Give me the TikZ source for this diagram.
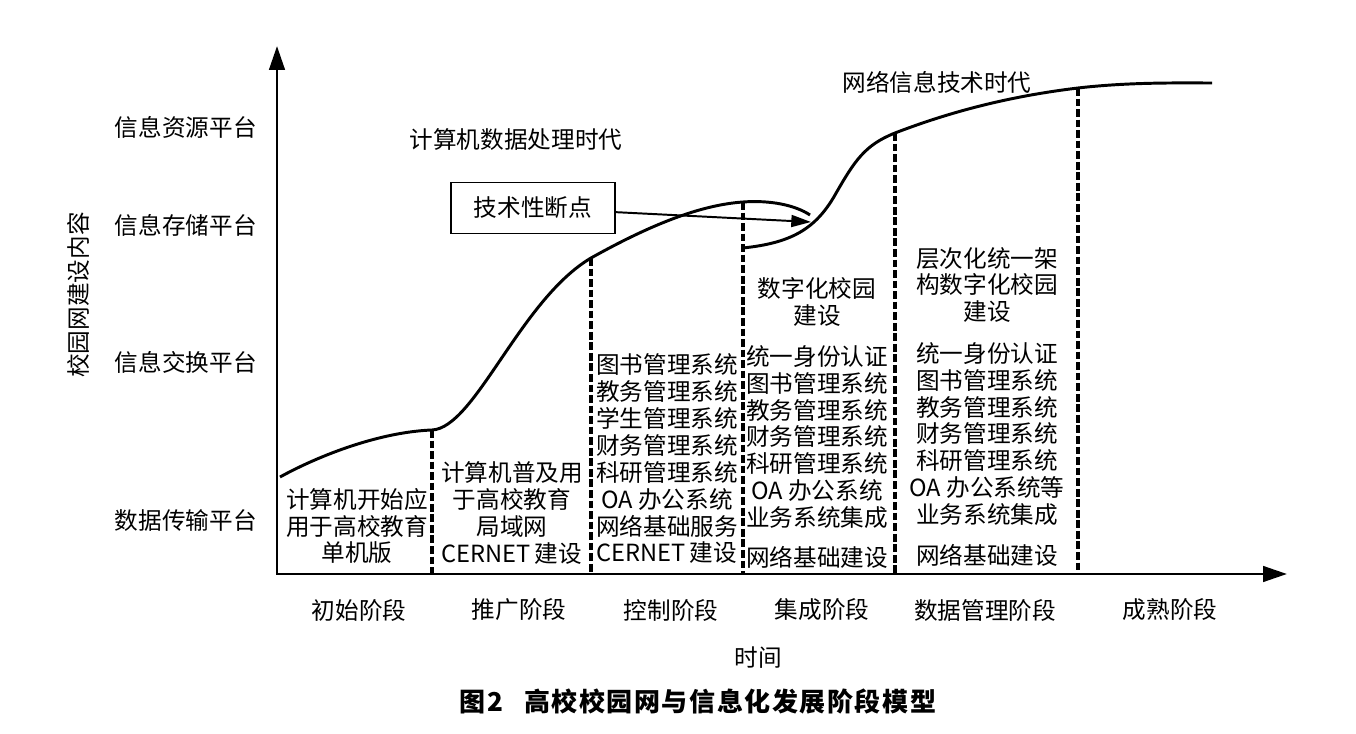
\documentclass[tikz,border=0pt]{standalone}
\usepackage{fontspec}
\setmainfont{Noto Sans CJK SC}
\usetikzlibrary{arrows.meta}

\begin{document}
\begin{tikzpicture}[
  x=0.025cm, y=-0.025cm,
  txt/.style={font=\fontsize{16.8}{19.1}\selectfont, align=center, inner sep=0pt},
  lvl/.style={txt, anchor=east},
  axis/.style={line width=2.1pt, {Triangle[length=17pt, width=11pt]}-{Triangle[length=17pt, width=11pt]}},
  curve/.style={line width=2.1pt},
  sep/.style={line width=3pt, dash pattern=on 5.5pt off 2pt},
  keybox/.style={txt, draw, line width=1.4pt, minimum width=4.075cm, minimum height=1.275cm}
]
  \useasboundingbox (0,0) rectangle (1356,734);

  % --- Ejes ---
  \coordinate (o) at (277,574);
  \coordinate (ytop) at (277,46);
  \coordinate (xend) at (1287,574);
  \draw[axis] (ytop) -- (o) -- (xend);

  \node[lvl] (l1) at (257,127) {信息资源平台};
  \node[lvl] (l2) at (257,225) {信息存储平台};
  \node[lvl] (l3) at (257,362) {信息交换平台};
  \node[lvl] (l4) at (257,521) {数据传输平台};
  \node[txt, rotate=90] (ytitle) at (78,295) {校园网建设内容};

  % --- Curvas ---
  \coordinate (p1) at (432,430);
  \coordinate (p2) at (591,258);
  \coordinate (p3) at (743,202);
  \coordinate (q3) at (743,248);
  \coordinate (p4) at (895,133);
  \coordinate (p5) at (1078,88);

  \draw[curve] (280,477) .. controls (320,455) and (380,432) .. (p1)
    .. controls (475,428) and (520,300) .. (p2)
    .. controls (650,225) and (700,205) .. (p3)
    .. controls (770,200) and (795,205) .. (810,215);
  \draw[curve] (q3) .. controls (790,243) and (815,230) .. (835,195)
    .. controls (855,160) and (865,145) .. (p4)
    .. controls (960,108) and (1020,95) .. (p5)
    .. controls (1130,82) and (1180,83) .. (1212,83);

  % --- Separadores ---
  \foreach \i/\x in {1/432, 2/591, 3/743, 4/895, 5/1078}
    \coordinate (b\i) at (\x,574);
  \foreach \i in {1,...,5}
    \draw[sep] (p\i) -- (b\i);

  % --- Eras y punto de ruptura ---
  \node[txt] (era1) at (516,140) {计算机数据处理时代};
  \node[txt] (era2) at (937,82) {网络信息技术时代};

  \node[keybox] (brk) at (533,208) {技术性断点};
  \coordinate (hit) at (811,222);
  \draw[line width=1.4pt, -{Triangle[length=14pt, width=8.5pt]}] (brk) -- (hit);

  % --- Contenido por etapa ---
  \node[txt] (c1) at (357,526) {计算机开始应\\用于高校教育\\单机版};
  \node[txt] (c2) at (512,513) {计算机普及用\\于高校教育\\局域网\\CERNET\,建设};
  \node[txt] (c3) at (667,459) {图书管理系统\\教务管理系统\\学生管理系统\\财务管理系统\\科研管理系统\\OA 办公系统\\网络基础服务\\CERNET\,建设};
  \node[txt] (c4a) at (817,302) {数字化校园\\建设};
  \node[txt] (c4b) at (817,437) {统一身份认证\\图书管理系统\\教务管理系统\\财务管理系统\\科研管理系统\\OA 办公系统\\业务系统集成};
  \node[txt] (c4c) at (817,557) {网络基础建设};
  \node[txt] (c5a) at (987,285) {层次化统一架\\构数字化校园\\建设};
  \node[txt] (c5b) at (987,434) {统一身份认证\\图书管理系统\\教务管理系统\\财务管理系统\\科研管理系统\\OA 办公系统等\\业务系统集成};
  \node[txt] (c5c) at (987,555) {网络基础建设};

  % --- Etapas ---
  \node[txt] (s1) at (359,610) {初始阶段};
  \node[txt] (s2) at (519,610) {推广阶段};
  \node[txt] (s3) at (671,610) {控制阶段};
  \node[txt] (s4) at (822,610) {集成阶段};
  \node[txt] (s5) at (985,610) {数据管理阶段};
  \node[txt] (s6) at (1170,610) {成熟阶段};

  \node[txt] (xtitle) at (758,658) {时间};
  \node[txt, font=\fontsize{18.5}{22}\selectfont\bfseries\addfontfeature{LetterSpace=6}] (cap) at (698,702) {图2\hspace{0.8em}高校校园网与信息化发展阶段模型};

\end{tikzpicture}
\end{document}
